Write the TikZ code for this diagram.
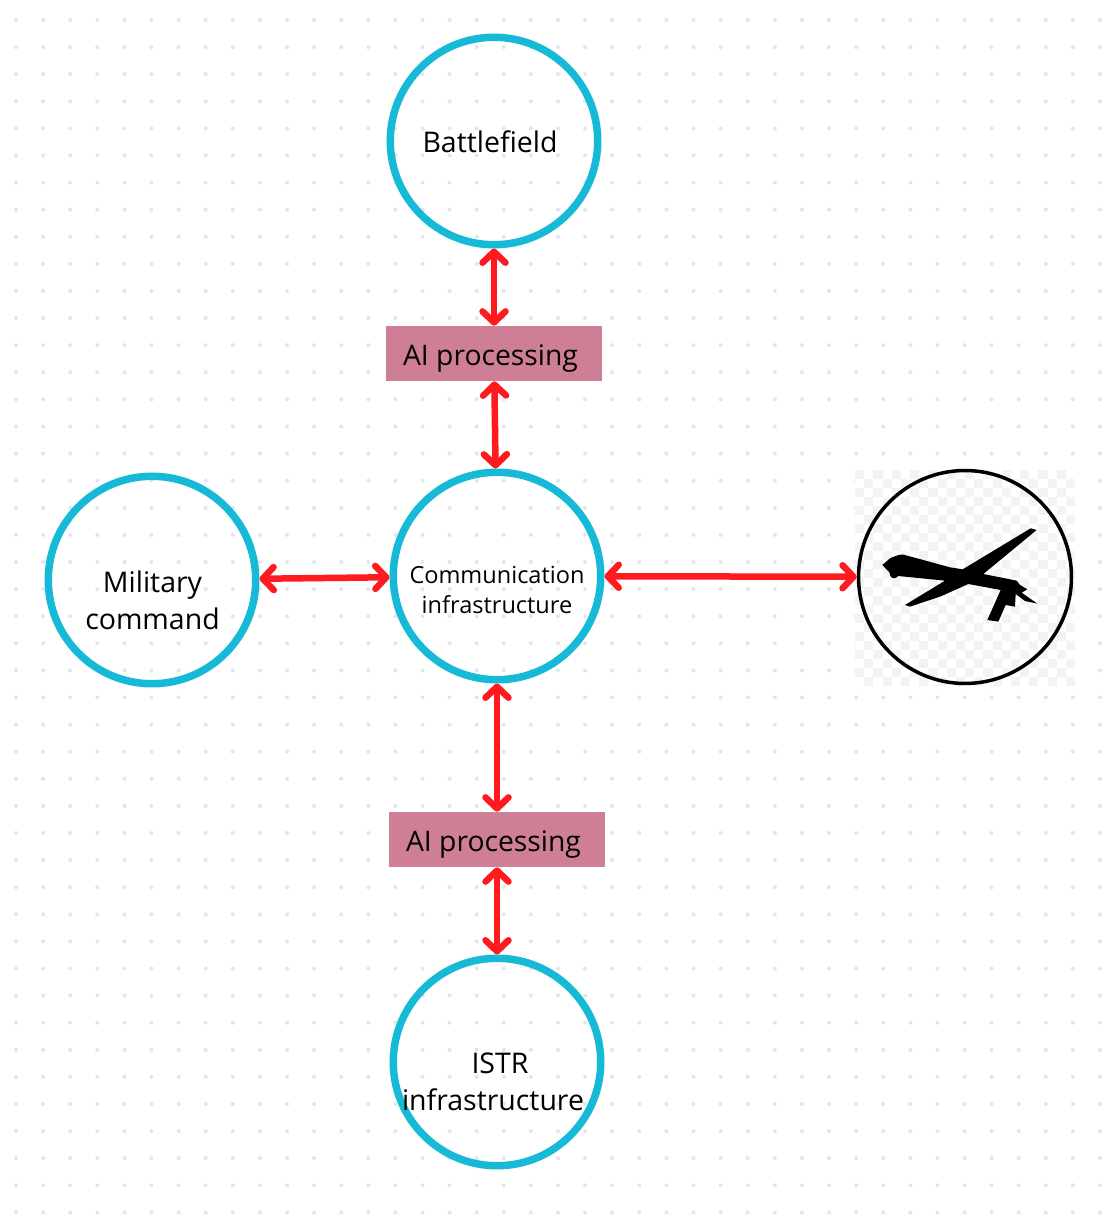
\documentclass[tikz,border=0pt]{standalone}
\usepackage{fontspec}
\setmainfont{Open Sans}
\usepackage{xcolor}
\usetikzlibrary{arrows.meta}
\definecolor{ringTeal}{HTML}{17BAD6}
\definecolor{boxRose}{HTML}{CF7F95}
\definecolor{linkRed}{HTML}{FF1A1F}
\definecolor{dotGrey}{HTML}{E1E6EE}
\definecolor{checkGrey}{HTML}{F3F3F3}

\begin{document}
\begin{tikzpicture}[
    x=0.02cm,y=-0.02cm,
    ring/.style={circle,draw=ringTeal,line width=0.15cm,minimum size=4.15cm,inner sep=0pt},
    dronering/.style={circle,draw=black,line width=0.07cm,minimum size=4.26cm,inner sep=0pt},
    aibox/.style={fill=boxRose,minimum width=4.32cm,minimum height=1.1cm,inner sep=0pt,text height=13.2pt,text depth=0pt,
      execute at begin node=\hspace*{-0.14cm},font=\fontsize{16.1}{20}\selectfont},
    caption/.style={align=center,inner sep=0pt,font=\fontsize{16.2}{21}\selectfont},
    smallcaption/.style={align=center,inner sep=0pt,font=\fontsize{13.4}{17.2}\selectfont},
    arrow/.style={{Straight Barb[round,length=0.22cm,width=0.46cm]}-{Straight Barb[round,length=0.22cm,width=0.46cm]},line width=0.13cm,draw=linkRed}]
    \useasboundingbox (0,0) rectangle (1116,1222);
    \fill[white] (0,0) rectangle (1116,1222);
    % dot grid
    \foreach \i in {0,...,40}
      \foreach \j in {0,...,44}
        \fill[dotGrey] ({16+27.1*\i},{20+27.1*\j}) circle (0.04cm);
    % checks behind the drone
    \fill[white] (855,470) rectangle (1075,686);
    \foreach \i in {0,...,23}
      \foreach \j in {0,...,23}{
        \pgfmathtruncatemacro{\cellodd}{mod(\i+\j,2)}
        \ifnum\cellodd=0
          \fill[checkGrey] ({855+9.17*\i},{470+9*\j}) rectangle +(9.17,9);
        \fi}
    \node[ring] (battlefield) at (494,141) {};
    \node[ring] (comm) at (497,576) {};
    \node[ring] (military) at (152,580) {};
    \node[ring] (istr) at (497,1062) {};
    \node[dronering] (drone) at (965,577) {};
    \node[aibox] (aitop) at (494,353.5) {AI processing};
    \node[aibox] (aibottom) at (497,839.5) {AI processing};
    \node[caption] (battlefieldtext) at (490,142) {Battlefield};
    \node[caption] (militarytext) at (152.5,600) {Military\\command};
    \node[smallcaption] (commtext) at (497,590) {Communication\\infrastructure};
    \node[caption] (istrtext) at (493,1082) {\hspace*{0.28cm}ISTR\\infrastructure};
    % drone silhouette
    \begin{scope}[shift={(840,450)},x=0.00667cm,y=-0.00667cm]
      \fill[black] (127,345) -- (150,325) .. controls (170,316) and (180,313) .. (190,314)
        -- (250,330) -- (330,352) -- (368,358) -- (572,235) -- (590,240) -- (430,372)
        -- (530,392) -- (540,405) -- (562,418) -- (545,428) -- (592,461) -- (555,453)
        -- (527,432) -- (525,470) -- (497,465) -- (475,515) -- (442,510) -- (482,420)
        -- (385,402) -- (300,440) -- (210,470) -- (195,465) -- (315,392) -- (175,378)
        -- (170,382) .. controls (162,388) and (150,385) .. (148,367) -- cycle;
    \end{scope}
    \draw[arrow] (battlefield)--(aitop);
    \draw[arrow] (aitop)--(comm);
    \draw[arrow] (military)--(comm);
    \draw[arrow] (comm)--(drone);
    \draw[arrow] (comm)--(aibottom);
    \draw[arrow] (aibottom)--(istr);
  \end{tikzpicture}
\end{document}
